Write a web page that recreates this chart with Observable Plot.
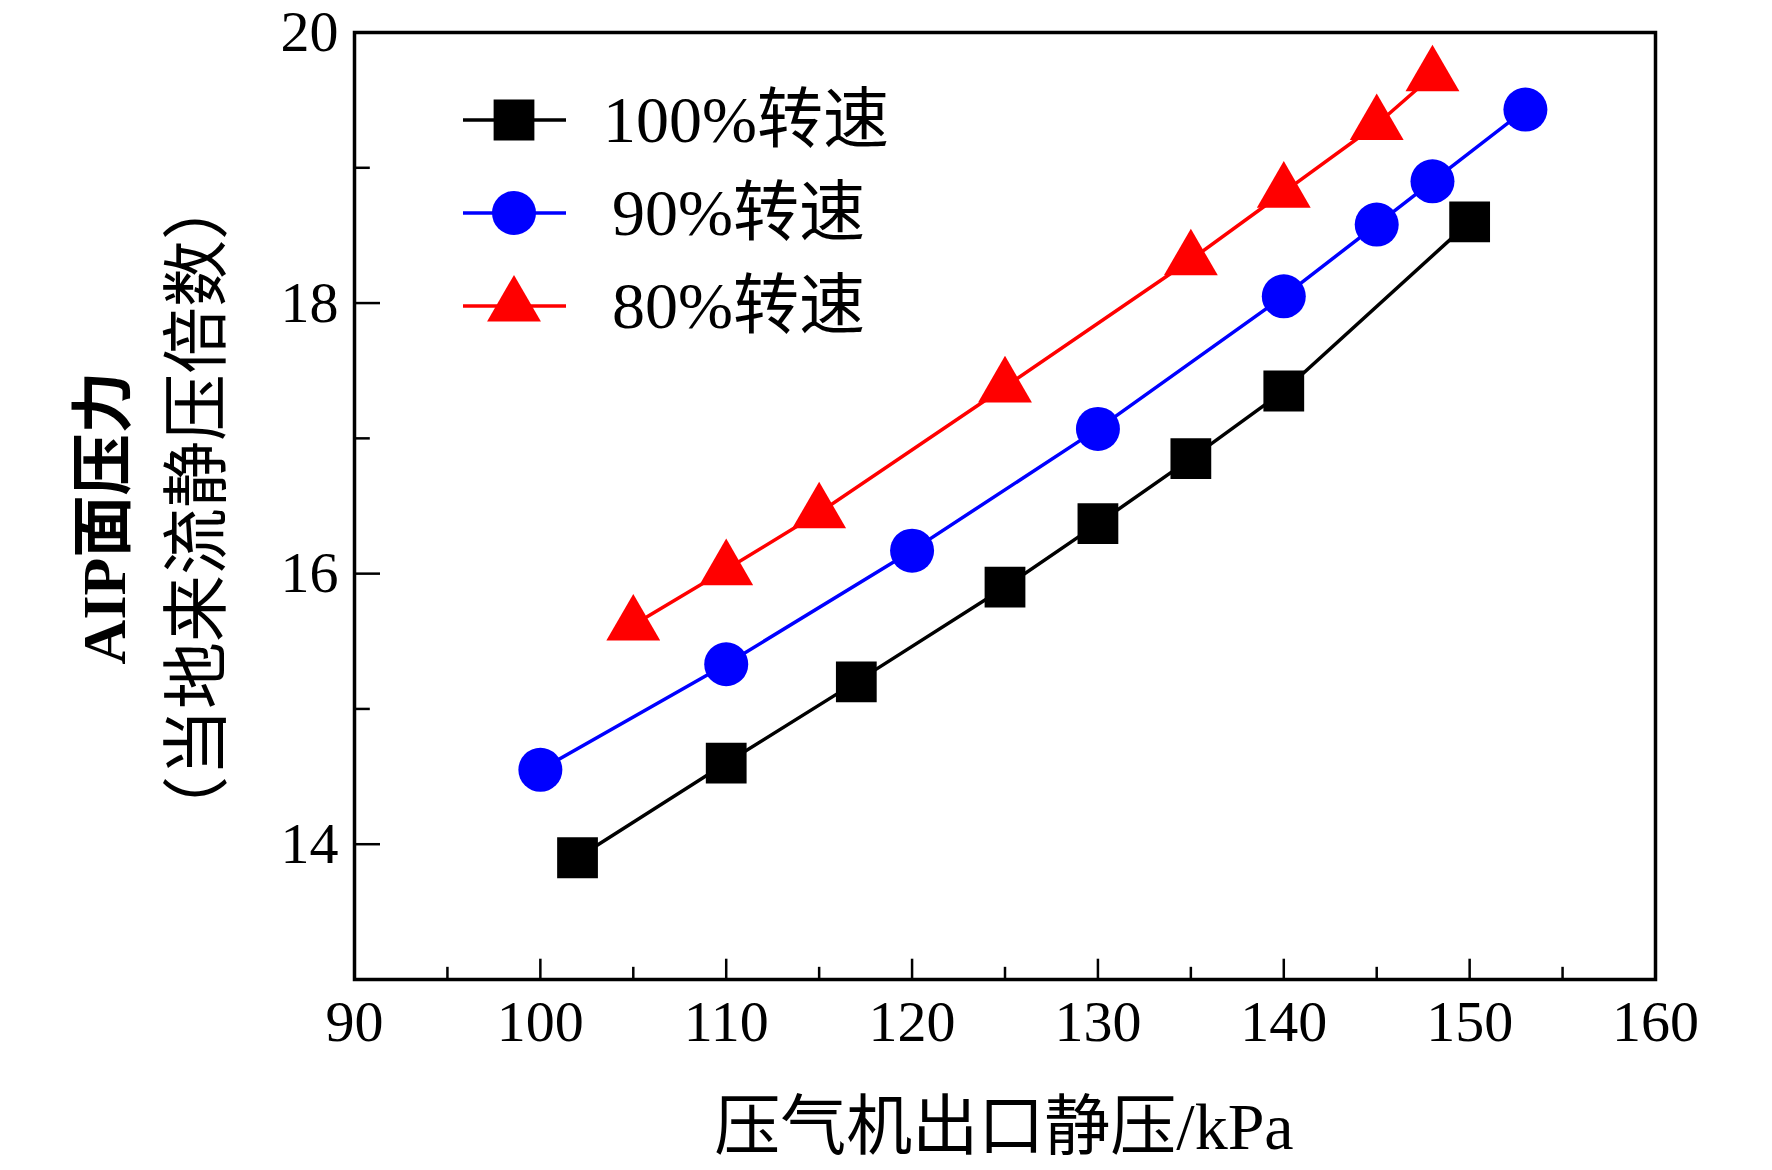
<!DOCTYPE html>
<html><head><meta charset="utf-8">
<script src="https://cdn.jsdelivr.net/npm/d3@7"></script>
<script src="https://cdn.jsdelivr.net/npm/@observablehq/plot@0.6"></script>
<style>
body{margin:0;background:#fff;font-family:"Liberation Serif","Noto Sans CJK SC",serif}
#wrap{position:relative;width:1772px;height:1170px}
.lab{position:absolute;white-space:nowrap;color:#000}
</style></head><body><div id="wrap"></div>
<script>
const x100=[102,110,117,125,130,135,140,150];
const y100=[13.9,14.6,15.2,15.9,16.37,16.85,17.35,18.6];
const x90=[100,110,120,130,140,145,148,153];
const y90=[14.55,15.33,16.17,17.07,18.05,18.58,18.9,19.43];
const x80=[105,110,115,125,135,140,145,148];
const y80=[15.62,16.03,16.45,17.38,18.32,18.82,19.32,19.68];
const xMajor=[90,100,110,120,130,140,150,160];
const xMinor=[95,105,115,125,135,145,155];
const yMajor=[14,16,18,20];
const yMinor=[15,17,19];
const series=[
 {name:"100%转速",xs:x100,ys:y100,color:"#000000",symbol:"square",r:23},
 {name:"90%转速",xs:x90,ys:y90,color:"#0000ff",symbol:"circle",r:22},
 {name:"80%转速",xs:x80,ys:y80,color:"#ff0000",symbol:"triangle",r:20}
];
const marks=[];
for(const s of series){
  const d=s.xs.map((x,i)=>({x,y:s.ys[i]}));
  marks.push(Plot.line(d,{x:"x",y:"y",stroke:s.color,strokeWidth:3.5}));
  marks.push(Plot.dot(d,{x:"x",y:"y",fill:s.color,symbol:s.symbol,r:s.r}));
}
const chart=Plot.plot({
  width:1772,height:1170,marginLeft:354,marginRight:117,marginTop:32,marginBottom:191,
  style:{fontFamily:"Liberation Serif, Noto Sans CJK SC, serif",fontSize:"58px",color:"#000",background:"#fff"},
  x:{domain:[90,160],label:null},
  y:{domain:[13,20],label:null},
  marks:[
    Plot.axisX(xMajor,{tickSize:0,tickPadding:20,fontSize:58,tickFormat:"d"}),
    Plot.axisY(yMajor,{tickSize:0,tickPadding:16,fontSize:58,tickFormat:"d"}),
    Plot.ruleX(xMajor,{y1:13,y2:13.15,stroke:"#000",strokeWidth:2.5}),
    Plot.ruleX(xMinor,{y1:13,y2:13.09,stroke:"#000",strokeWidth:2.5}),
    Plot.ruleY(yMajor,{x1:90,x2:91.4,stroke:"#000",strokeWidth:2.5}),
    Plot.ruleY(yMinor,{x1:90,x2:90.85,stroke:"#000",strokeWidth:2.5}),
    ...marks,
    Plot.frame({stroke:"#000",strokeWidth:3.5})
  ]
});
const wrap=document.getElementById("wrap");
wrap.appendChild(chart);
series.forEach((s,i)=>{
  const cy=120+i*93;
  const sv=d3.select(wrap).append("svg").attr("width",120).attr("height",70)
    .style("position","absolute").style("left","458px").style("top",(cy-35)+"px");
  sv.append("line").attr("x1",5).attr("x2",108).attr("y1",35).attr("y2",35).attr("stroke",s.color).attr("stroke-width",3.5);
  const sym={square:d3.symbolSquare,circle:d3.symbolCircle,triangle:d3.symbolTriangle}[s.symbol];
  sv.append("path").attr("transform","translate(56,35)").attr("d",d3.symbol(sym,Math.PI*s.r*s.r)()).attr("fill",s.color);
  const t=document.createElement("div");t.className="lab";t.textContent=s.name;
  t.style.cssText+=`left:${i==0?603:612}px;top:${cy-40}px;font-size:66px;line-height:80px`;
  wrap.appendChild(t);
});
const xl=document.createElement("div");xl.className="lab";xl.textContent="压气机出口静压/kPa";
xl.style.cssText+="left:1004px;top:1120px;font-size:66px;transform:translate(-50%,-50%)";
wrap.appendChild(xl);
const y1=document.createElement("div");y1.className="lab";y1.textContent="AIP面压力";
y1.style.cssText+="left:98px;top:518px;font-size:62px;font-weight:bold;transform:translate(-50%,-50%) rotate(-90deg)";
wrap.appendChild(y1);
const y2=document.createElement("div");y2.className="lab";y2.textContent="（当地来流静压倍数）";
y2.style.cssText+="left:190px;top:508px;font-size:67px;transform:translate(-50%,-50%) rotate(-90deg)";
wrap.appendChild(y2);
</script></body></html>
